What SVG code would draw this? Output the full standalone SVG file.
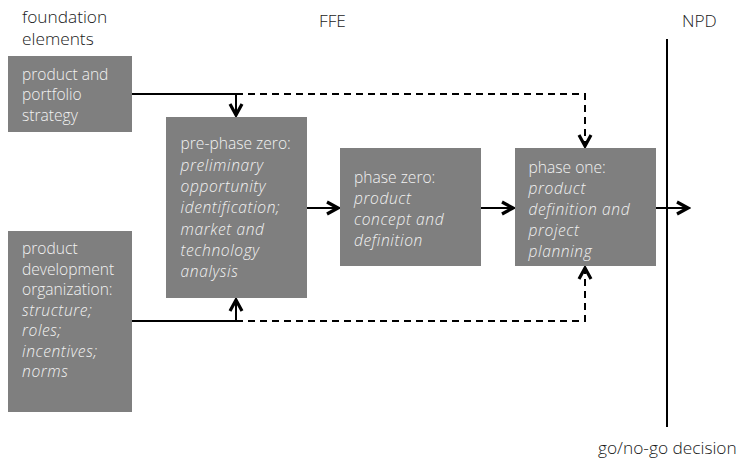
<svg xmlns="http://www.w3.org/2000/svg" width="740" height="459" viewBox="0 0 740 459">
<style>
.box{fill:#7f7f7f}
.t{font-family:"Open Sans","Liberation Sans",sans-serif;font-size:15.6px;font-weight:300;fill:#f2f2f2}
.i{font-style:italic;font-size:15.6px;letter-spacing:0.6px}
.h{font-family:"Open Sans","Liberation Sans",sans-serif;font-size:17.3px;font-weight:300;fill:#1a1a1a}
.ln{stroke:#000;stroke-width:2;fill:none}
.dash{stroke:#000;stroke-width:2;fill:none;stroke-dasharray:7,5}
</style>
<defs>
<marker id="chev" markerUnits="userSpaceOnUse" markerWidth="16" markerHeight="16" viewBox="0 0 16 16" refX="13" refY="8" orient="auto">
<path d="M2,2 L13,8 L2,14" fill="none" stroke="#000" stroke-width="3.2"/>
</marker>
</defs>
<rect width="740" height="459" fill="#fff"/>
<g id="labels">
<text class="h" x="22" y="23">foundation</text>
<text class="h" x="22" y="45">elements</text>
<text class="h" x="319" y="27">FFE</text>
<text class="h" x="682" y="27">NPD</text>
<text class="h" x="598" y="454">go/no-go decision</text>
</g>
<g id="connectors">
<path class="ln" d="M132,94 H236"/>
<path class="dash" d="M236,94 H585 V146" marker-end="url(#chev)"/>
<path class="ln" d="M236,94 V115" marker-end="url(#chev)"/>
<path class="ln" d="M132,321 H236 V300" marker-end="url(#chev)"/>
<path class="dash" d="M236,321 H585 V268" marker-end="url(#chev)"/>
<path class="ln" d="M307,208 H338" marker-end="url(#chev)"/>
<path class="ln" d="M481,208 H513" marker-end="url(#chev)"/>
<path class="ln" d="M656,208 H688" marker-end="url(#chev)"/>
<line class="ln" x1="667" y1="39" x2="667" y2="427"/>
</g>
<g id="n1">
<rect class="box" x="8" y="56" width="124" height="76"/>
<text class="t" x="22" y="79.5">product and</text>
<text class="t" x="22" y="100">portfolio</text>
<text class="t" x="22" y="120.5">strategy</text>
</g>
<g id="n2">
<rect class="box" x="166" y="117" width="141" height="181"/>
<text class="t" x="180.5" y="149.3">pre-phase zero:</text>
<text class="t i" x="180.5" y="170.6">preliminary</text>
<text class="t i" x="180.5" y="191.9">opportunity</text>
<text class="t i" x="180.5" y="213.2">identification;</text>
<text class="t i" x="180.5" y="234.5">market and</text>
<text class="t i" x="180.5" y="255.8">technology</text>
<text class="t i" x="180.5" y="277.1">analysis</text>
</g>
<g id="n3">
<rect class="box" x="340" y="148" width="141" height="118"/>
<text class="t" x="354" y="182.5">phase zero:</text>
<text class="t i" x="354" y="203.5">product</text>
<text class="t i" x="354" y="224.5">concept and</text>
<text class="t i" x="354" y="245.5">definition</text>
</g>
<g id="n4">
<rect class="box" x="515" y="148" width="141" height="118"/>
<text class="t" x="528.5" y="172.5">phase one:</text>
<text class="t i" x="528.5" y="193.5">product</text>
<text class="t i" x="528.5" y="214.5">definition and</text>
<text class="t i" x="528.5" y="235.5">project</text>
<text class="t i" x="528.5" y="256.5">planning</text>
</g>
<g id="n5">
<rect class="box" x="8" y="231" width="124" height="181"/>
<text class="t" x="22" y="254.3">product</text>
<text class="t" x="22" y="274.8">development</text>
<text class="t" x="22" y="295.3">organization:</text>
<text class="t i" x="22" y="315.8">structure;</text>
<text class="t i" x="22" y="336.3">roles;</text>
<text class="t i" x="22" y="356.8">incentives;</text>
<text class="t i" x="22" y="377.3">norms</text>
</g>
</svg>
